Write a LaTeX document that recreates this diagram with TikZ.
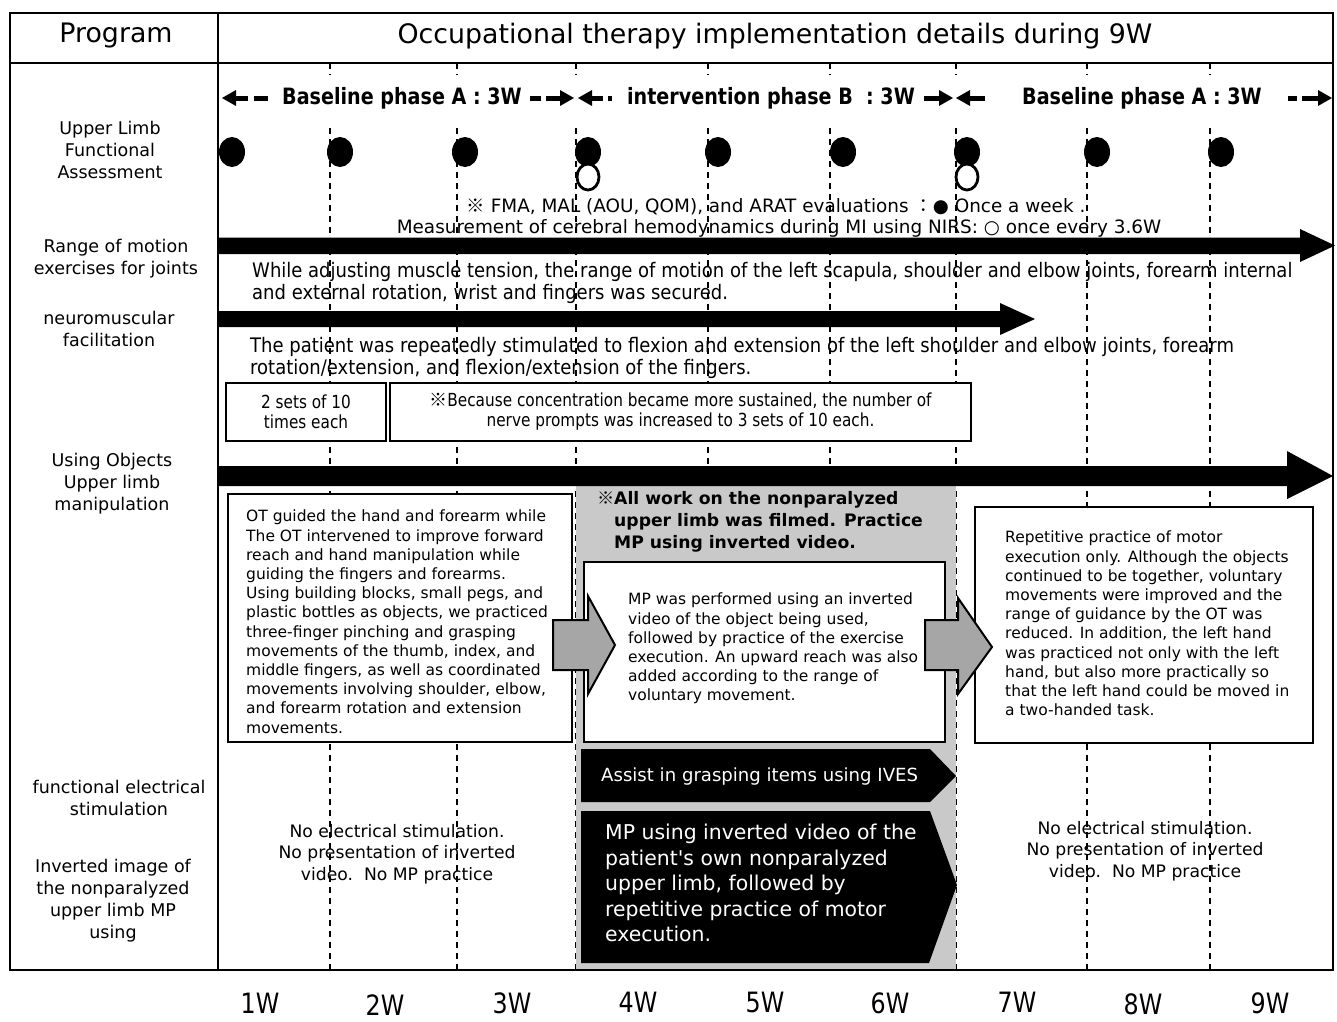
\documentclass[tikz,border=0pt]{standalone}
\usepackage{fontspec}
\setmainfont{DejaVu Sans}
\newfontfamily\nar{DejaVu Sans}[FakeStretch=0.85]
\newfontfamily\semi{DejaVu Sans}[FakeStretch=0.9]
\newfontfamily\cjk{Noto Sans CJK JP}
\usetikzlibrary{shapes.geometric}

\definecolor{bandgray}{gray}{0.79}
\definecolor{arrowgray}{gray}{0.65}

\tikzset{
  frame/.style={line width=2pt},
  weekline/.style={line width=1.2pt, dash pattern=on 6pt off 5pt},
  rowlabel/.style={align=center, inner sep=0pt, font=\fontsize{17.5}{22}\selectfont},
  headtxt/.style={inner sep=0pt, font=\fontsize{26.8}{30}\selectfont},
  phasetxt/.style={inner sep=0pt, font=\nar\bfseries\fontsize{22.5}{26}\selectfont},
  notetxt/.style={inner sep=0pt, font=\fontsize{18.4}{22}\selectfont},
  widetxt/.style={align=left, inner sep=0pt, font=\semi\fontsize{20}{22}\selectfont},
  settxt/.style={align=center, inner sep=0pt, font=\nar\fontsize{18}{20}\selectfont},
  boxtxt/.style={align=left, inner sep=0pt, font=\fontsize{15.5}{19.2}\selectfont},
  boldtxt/.style={align=left, inner sep=0pt, font=\bfseries\fontsize{17.2}{22}\selectfont},
  plaintxt/.style={align=center, inner sep=0pt, font=\fontsize{17.2}{21.5}\selectfont},
  whitetxt/.style={align=left, inner sep=0pt, text=white},
  panel/.style={draw, line width=1.5pt, fill=white},
  dot/.style={ellipse, fill=black, inner sep=0pt, minimum width=26pt, minimum height=30pt},
  ring/.style={ellipse, draw, line width=2.8pt, fill=white, inner sep=0pt, minimum width=22pt, minimum height=26pt},
  weektxt/.style={inner sep=0pt, font=\nar\fontsize{28}{30}\selectfont},
  blockarrow/.style={fill=arrowgray, draw=black, line width=2pt, line join=miter},
}

\begin{document}
\begin{tikzpicture}[x=1pt,y=-1pt]
\useasboundingbox[fill=white] (0,0) rectangle (1337,1021);

% week grid
\foreach \x in {330,457,576,708,830,956,1087,1210}{
  \draw[weekline] (\x,63) -- (\x,75);
  \draw[weekline] (\x,128) -- (\x,970);
}

% intervention band
\fill[bandgray] (576,485) rectangle (956,969);

% table frame
\draw[frame] (10,13) rectangle (1333,970);
\draw[frame] (10,63) -- (1333,63);
\draw[frame] (218,13) -- (218,970);

% header
\node[headtxt] (prog) at (116,36) {Program};
\node[headtxt] (title) at (775,36) {Occupational therapy implementation details during 9W};

% phase row
\node[phasetxt] (phaseA1) at (402,98) {Baseline phase A : 3W};
\node[phasetxt] (phaseB) at (771,98) {intervention phase B\ \ : 3W};
\node[phasetxt] (phaseA2) at (1142,98) {Baseline phase A : 3W};
\fill (222,98) -- (236,90) -- (236,106) -- cycle;
\fill (236,95.5) rectangle (248,100.5);
\fill (254,95.5) rectangle (268,100.5);
\fill (530,95.5) rectangle (541,100.5);
\fill (546,95.5) rectangle (560,100.5);
\fill (574,98) -- (560,90) -- (560,106) -- cycle;
\fill (578,98) -- (592,90) -- (592,106) -- cycle;
\fill (592,95.5) rectangle (603,100.5);
\fill (608,95.5) rectangle (612,100.5);
\fill (924,95.5) rectangle (940,100.5);
\fill (953,98) -- (939,90) -- (939,106) -- cycle;
\fill (956,98) -- (970,90) -- (970,106) -- cycle;
\fill (970,95.5) rectangle (985,100.5);
\fill (1288,95.5) rectangle (1297,100.5);
\fill (1302,95.5) rectangle (1318,100.5);
\fill (1332,98) -- (1318,90) -- (1318,106) -- cycle;

% row labels
\node[rowlabel] (lab1) at (110,150) {Upper Limb\\Functional\\Assessment};
\node[rowlabel] (lab2) at (116,259) {Range of motion\\exercises for joints};
\node[rowlabel] (lab3) at (109,329) {neuromuscular\\facilitation};
\node[rowlabel] (lab4) at (112,484) {Using Objects\\Upper limb\\manipulation};
\node[rowlabel] (lab5) at (119,798) {functional electrical\\stimulation};
\node[rowlabel] (lab6) at (113,901) {Inverted image of\\the nonparalyzed\\upper limb MP\\using};

% assessments
\foreach \x [count=\i] in {232,340,465,588,718,843,967,1097,1221}
  \node[dot] (dot\i) at (\x,152) {};
\node[ring] (ring1) at (588,177) {};
\node[ring] (ring2) at (967,177) {};
\node[notetxt] (note1) at (776,207) {{\cjk ※} FMA, MAL (AOU, QOM), and ARAT evaluations {\cjk ：}● Once a week .};
\node[notetxt] (note2) at (779,228.5) {Measurement of cerebral hemodynamics during MI using NIRS: ○ once every 3.6W};

% range of motion
\fill (218,237.5) -- (1300,237.5) -- (1300,229) -- (1335,245.5) -- (1300,262) -- (1300,254) -- (218,254) -- cycle;
\node[widetxt, anchor=west] (romtxt) at (252,283) {While adjusting muscle tension, the range of motion of the left scapula, shoulder and elbow joints, forearm internal\\and external rotation, wrist and fingers was secured.};

% neuromuscular facilitation
\fill (218,311) -- (1000,311) -- (1000,303) -- (1035,319) -- (1000,335) -- (1000,327) -- (218,327) -- cycle;
\node[widetxt, anchor=west] (pnftxt) at (250,358) {The patient was repeatedly stimulated to flexion and extension of the left shoulder and elbow joints, forearm\\rotation/extension, and flexion/extension of the fingers.};
\node[panel, minimum width=160pt, minimum height=58pt] (sets1) at (306,412) {};
\node[settxt] at (sets1) {2 sets of 10\\times each};
\node[panel, minimum width=581pt, minimum height=58pt] (sets2) at (680.5,412) {};
\node[settxt] at (sets2) {{\cjk ※}Because concentration became more sustained, the number of\\nerve prompts was increased to 3 sets of 10 each.};

% object manipulation
\fill (218,466) -- (1287,466) -- (1287,451) -- (1333,476) -- (1287,499) -- (1287,486) -- (218,486) -- cycle;

\node[panel, minimum width=344pt, minimum height=248pt] (boxA1) at (400,618) {};
\node[boxtxt, anchor=north west] (txtA1) at (246,510) {OT guided the hand and forearm while\\The OT intervened to improve forward\\reach and hand manipulation while\\guiding the fingers and forearms.\\Using building blocks, small pegs, and\\plastic bottles as objects, we practiced\\three-finger pinching and grasping\\movements of the thumb, index, and\\middle fingers, as well as coordinated\\movements involving shoulder, elbow,\\and forearm rotation and extension\\movements.};

\node[boldtxt, anchor=north west] (filmnote) at (614,491) {\llap{\cjk ※}All work on the nonparalyzed\\upper limb was filmed. Practice\\MP using inverted video.};
\node[panel, minimum width=361pt, minimum height=180pt] (boxB) at (764.5,652) {};
\node[boxtxt, anchor=north west] (txtB) at (628,593) {MP was performed using an inverted\\video of the object being used,\\followed by practice of the exercise\\execution. An upward reach was also\\added according to the range of\\voluntary movement.};

\node[panel, minimum width=338pt, minimum height=236pt] (boxA2) at (1144,625) {};
\node[boxtxt, anchor=north west] (txtA2) at (1005,531) {Repetitive practice of motor\\execution only. Although the objects\\continued to be together, voluntary\\movements were improved and the\\range of guidance by the OT was\\reduced. In addition, the left hand\\was practiced not only with the left\\hand, but also more practically so\\that the left hand could be moved in\\a two-handed task.};

\draw[blockarrow] (553,620) -- (588,620) -- (588,596) -- (615,645) -- (588,694) -- (588,670) -- (553,670) -- cycle;
\draw[blockarrow] (925,620) -- (958,620) -- (958,598) -- (992,647) -- (958,694) -- (958,670) -- (925,670) -- cycle;

% electrical stimulation and mirror practice
\fill (581,749) -- (930,749) -- (956,776) -- (930,802) -- (581,802) -- cycle;
\node[whitetxt, anchor=west, font=\fontsize{18.1}{22}\selectfont] (ives) at (601,776) {Assist in grasping items using IVES};
\fill (581,811) -- (930,811) -- (957,885) -- (929,963) -- (581,963) -- cycle;
\node[whitetxt, anchor=north west, font=\fontsize{20.4}{25.5}\selectfont] (mirror) at (605,824) {MP using inverted video of the\\patient\textquotesingle s own nonparalyzed\\upper limb, followed by\\repetitive practice of motor\\execution.};

\node[plaintxt] (noes1) at (397,854) {No electrical stimulation.\\No presentation of inverted\\video.\ \ No MP practice};
\node[plaintxt] (noes2) at (1145,851) {No electrical stimulation.\\No presentation of inverted\\video.\ \ No MP practice};

% week axis
\foreach \x/\w/\y in {260/1/1003,385/2/1005,512/3/1003,638/4/1002,765/5/1002,890/6/1003,1017/7/1002,1143/8/1004,1270/9/1003}
  \node[weektxt] (wk\w) at (\x,\y) {\w W};
\end{tikzpicture}
\end{document}
